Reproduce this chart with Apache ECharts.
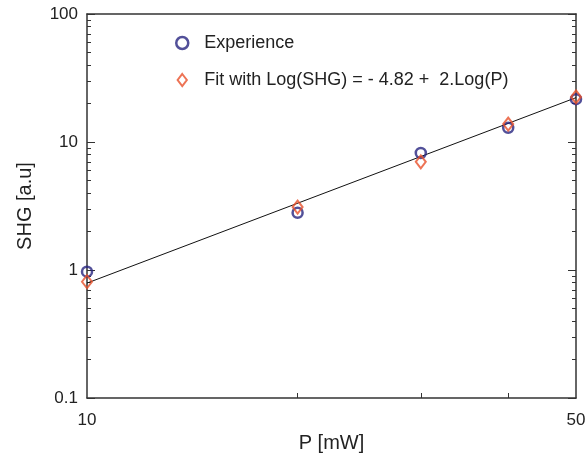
<!DOCTYPE html>
<html>
<head>
<meta charset="utf-8">
<script src="https://cdn.jsdelivr.net/npm/echarts@6/dist/echarts.min.js"></script>
<style>
  html, body { margin: 0; padding: 0; background: #fff; }
  #chart { width: 588px; height: 454px; }
</style>
</head>
<body>
<div id="chart"></div>
<script>
// Measured SHG signal versus pump power
const powerMW = [10, 20, 30, 40, 50];
const shgMeasured = [0.97, 2.8, 8.2, 12.9, 21.6];
const shgFitPoints = [0.81, 3.1, 7.0, 13.8, 22.5];
// Fitted power law, evaluated at the ends of the range
const fitLineP = [10, 50];
const fitLineSHG = [0.79, 22.2];

const xLabelValues = [10, 50];
const xTickValues = [20, 30, 40];
const yMajorValues = [0.1, 1, 10, 100];
const yMinorValues = [0.2, 0.3, 0.4, 0.5, 0.6, 0.7, 0.8, 0.9,
  2, 3, 4, 5, 6, 7, 8, 9, 20, 30, 40, 50, 60, 70, 80, 90];

const FONT = '"Liberation Sans", Arial, sans-serif';
const INK = '#222';
const AXIS = '#333';
const BLUE = '#27247f';
const ORANGE = '#e8502a';

const pairs = (xs, ys) => xs.map((x, i) => [x, ys[i]]);

// Decade-subdivision ticks: a plain value axis spanning log10 of the
// data range, so the short ticks sit at log10(2..9) inside each decade.
function minorTickAxis(position) {
  return {
    type: 'value', min: Math.log10(0.1), max: Math.log10(100), position: position,
    axisLine: { show: false, onZero: false },
    axisTick: { show: true, inside: true, length: 4,
      customValues: yMinorValues.map(Math.log10),
      lineStyle: { color: AXIS, width: 1 } },
    axisLabel: { show: false },
    splitLine: { show: false }
  };
}

const chart = echarts.init(document.getElementById('chart'), null, { renderer: 'canvas' });
chart.setOption({
  animation: false,
  backgroundColor: '#fff',
  grid: { left: 87, right: 12, top: 14, bottom: 56, containLabel: false,
    outerBoundsMode: 'none' },
  legend: {
    orient: 'vertical', left: 170, top: 29, itemGap: 19,
    itemWidth: 34, itemHeight: 12,
    textStyle: { fontFamily: FONT, fontSize: 18, color: INK },
    data: [
      { name: 'Experience', icon: 'circle',
        itemStyle: { color: 'transparent', borderColor: BLUE, borderWidth: 2.5 } },
      { name: 'Fit with Log(SHG) = - 4.82 +  2.Log(P)',
        icon: 'path://M0,-6.5L5,0L0,6.5L-5,0Z',
        itemStyle: { color: 'transparent', borderColor: ORANGE, borderWidth: 2 } }
    ]
  },
  xAxis: [
    {
      type: 'log', logBase: 10, min: 10, max: 50, position: 'bottom',
      name: 'P [mW]', nameLocation: 'middle', nameGap: 33,
      nameTextStyle: { fontFamily: FONT, fontSize: 20, color: INK },
      axisLine: { show: true, onZero: false, lineStyle: { color: AXIS, width: 1.5 } },
      axisTick: { show: true, inside: true, length: 5, customValues: xTickValues,
        lineStyle: { color: AXIS, width: 1 } },
      axisLabel: { customValues: xLabelValues, margin: 14,
        fontFamily: FONT, fontSize: 17, color: INK },
      splitLine: { show: false }
    },
    {
      type: 'log', logBase: 10, min: 10, max: 50, position: 'top',
      axisLine: { show: true, onZero: false, lineStyle: { color: AXIS, width: 1.5 } },
      axisTick: { show: false }, axisLabel: { show: false }, splitLine: { show: false }
    }
  ],
  yAxis: [
    {
      type: 'log', logBase: 10, min: 0.1, max: 100, position: 'left',
      name: 'SHG [a.u]', nameLocation: 'middle', nameGap: 52,
      nameTextStyle: { fontFamily: FONT, fontSize: 20, color: INK },
      axisLine: { show: true, onZero: false, lineStyle: { color: AXIS, width: 1.5 } },
      axisTick: { show: true, inside: true, length: 8, customValues: yMajorValues,
        lineStyle: { color: AXIS, width: 1 } },
      axisLabel: { customValues: yMajorValues, margin: 9,
        fontFamily: FONT, fontSize: 17, color: INK,
        formatter: v => String(+(+v).toPrecision(3)) },
      splitLine: { show: false }
    },
    {
      type: 'log', logBase: 10, min: 0.1, max: 100, position: 'right',
      axisLine: { show: true, onZero: false, lineStyle: { color: AXIS, width: 1.5 } },
      axisTick: { show: true, inside: true, length: 8, customValues: yMajorValues,
        lineStyle: { color: AXIS, width: 1 } },
      axisLabel: { show: false }, splitLine: { show: false }
    },
    minorTickAxis('left'),
    minorTickAxis('right')
  ],
  series: [
    {
      name: 'fit-line', type: 'line', data: pairs(fitLineP, fitLineSHG),
      showSymbol: false, silent: true, z: 1,
      lineStyle: { color: '#111', width: 1 }
    },
    {
      name: 'Experience', type: 'scatter', data: pairs(powerMW, shgMeasured),
      symbol: 'circle', symbolSize: 10, z: 3,
      itemStyle: { color: 'transparent', borderColor: BLUE, borderWidth: 2.5 }
    },
    {
      name: 'Fit with Log(SHG) = - 4.82 +  2.Log(P)', type: 'scatter',
      data: pairs(powerMW, shgFitPoints),
      symbol: 'diamond', symbolSize: [10, 13], z: 4,
      itemStyle: { color: 'transparent', borderColor: ORANGE, borderWidth: 2 }
    }
  ]
});
</script>
</body>
</html>
